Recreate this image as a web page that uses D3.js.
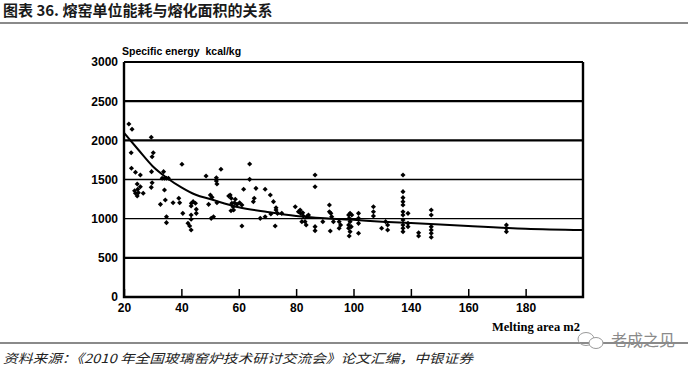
<!DOCTYPE html>
<html>
<head>
<meta charset="utf-8">
<script src="https://cdn.jsdelivr.net/npm/d3@7"></script>
<style>
  body { margin: 0; background: #fff; }
  svg { display: block; }
  text { white-space: pre; }
</style>
</head>
<body>
<svg id="chart" width="700" height="370"></svg>
<script>
// Melting area (as labelled on the original axis) vs specific energy
const points = [
  [21.7,2209],[22.8,2141],[22.5,1842],[22.6,1643],[24,1592],[25.7,1557],
  [23.7,1357],[24.8,1375],[25.7,1408],[24,1324],[25,1332],[26.7,1324],[24.6,1290],[24.6,1443],
  [29.5,2039],[30.2,1842],[29.8,1791],[29.6,1600],[29.8,1459],[29.5,1400],
  [32.7,1183],[34.1,1366],[34.4,1238],[34.8,1025],[34.8,949],
  [33.8,1600],[33.3,1515],[34.1,1515],[34.8,1515],[35.5,1515],
  [37.1,1204],[39.1,1260],[39.4,1204],[40.5,1068],[40.2,1694],
  [42.3,941],[42.9,906],[43.4,855],[43.4,992],[43.4,1047],[43.5,1196],[44.1,1217],[44.9,1196],[45.2,1119],[45.2,1068],[43.4,1162],
  [48.6,1545],[49.5,1183],[50.1,1302],[50.7,1273],[51.2,1025],[50.4,1004],
  [52.2,1523],[52.2,1481],[52.4,1443],[52.4,1204],[53.8,1630],
  [56.5,1290],[57,1302],[57.4,1260],[57.6,1196],[58,1153],[57.3,1102],[58.2,1111],[58.5,1204],[58.8,1247],[59.4,1183],
  [60.3,1204],[61.1,1174],[61.1,906],
  [61.7,1375],[63.8,1698],[63.8,1502],[65.1,1217],[65.4,1260],[66,1387],
  [67.5,1004],[69.2,1025],[69.2,1375],[71,1302],[71.2,1060],[72.1,1217],[73,1140],[72.7,906],[73,1111],[73.5,1068],[75,1068],
  [79.7,1153],[80.8,1089],[81.4,1111],[81.6,1068],[82.3,1076],[82.5,1034],[83.1,962],[83.7,1025],[84.3,1047],[82,962],[83.5,919],
  [86.6,1557],[86.6,1408],[86.6,898],[86.6,847],
  [89.3,962],[91.6,1174],[91.6,1089],[92.1,1068],[92.4,1025],[93,962],[91.9,843],
  [95,962],[95,877],[95.5,919],
  [98.3,1047],[98.8,1068],[99.4,1047],[98.5,1004],[98.8,962],[98.3,919],[99.2,898],[98.3,877],[98.8,834],[98.5,779],
  [103.5,1068],[103.5,1004],[103.5,940],[103.5,813],
  [113.9,1153],[113.9,1089],[113.9,1034],
  [119.6,877],[122.4,962],[123.8,919],[123.8,855],
  [134.5,1557],[134.5,1345],[134.5,1268],[134.5,1217],[134.5,1174],[134.5,1089],[134.5,1047],[134.5,983],[134.5,919],[134.5,877],[134.5,834],
  [138,1068],[138,940],[138,898],
  [142.7,821],[142.7,779],
  [147.1,1110],[147.1,1047],[147.1,898],[147.1,855],[147.1,813],[147.1,762],
  [173.3,919],[173.3,877],[173.3,834]
];

// Fitted trend line
const curveX = [20, 25, 30, 35, 40, 45, 50, 60, 70, 80, 90, 100, 120, 140, 160, 180, 200];
const curveY = [2095, 1880, 1670, 1520, 1400, 1305, 1250, 1145, 1085, 1035, 1005, 985, 962, 945, 905, 872, 855];

// The original axis skips 120, ticks are evenly spaced
const xBreaks = [20, 40, 60, 80, 100, 140, 160, 180, 200];
const xTickLabels = [20, 40, 60, 80, 100, 140, 160, 180];
const yTicks = [0, 500, 1000, 1500, 2000, 2500, 3000];
const thinGrid = [1000, 1500];

const title = '图表 36. 熔窑单位能耗与熔化面积的关系';
const source = '资料来源：《2010 年全国玻璃窑炉技术研讨交流会》论文汇编，中银证券';

const svg = d3.select('#chart');
const L = 124, R = 583, T = 62, B = 297;

const x = d3.scaleLinear()
  .domain(xBreaks)
  .range(xBreaks.map((d, i) => L + i * (R - L) / (xBreaks.length - 1)));
const y = d3.scaleLinear().domain([0, 3000]).range([B, T]);

// Header / footer
svg.append('text')
  .attr('x', 3).attr('y', 16)
  .attr('font-family', '"Noto Sans CJK SC", sans-serif')
  .attr('font-weight', 700).attr('font-size', 15)
  .attr('fill', '#1a1a1a')
  .text(title);
svg.append('line')
  .attr('x1', 0).attr('x2', 688).attr('y1', 23).attr('y2', 23)
  .attr('stroke', '#8a8a8a').attr('stroke-width', 2);

svg.append('line')
  .attr('x1', 0).attr('x2', 688).attr('y1', 343).attr('y2', 343)
  .attr('stroke', '#8a8a8a').attr('stroke-width', 2);
svg.append('text')
  .attr('x', 3).attr('y', 363)
  .attr('font-family', '"Noto Sans CJK SC", sans-serif')
  .attr('font-style', 'italic').attr('font-size', 12.5)
  .attr('textLength', 470).attr('lengthAdjust', 'spacingAndGlyphs')
  .attr('fill', '#222')
  .text(source);

// Watermark
const wm = svg.append('g').attr('fill', 'none').attr('stroke', '#9a9a9a').attr('stroke-width', 1);
wm.append('ellipse').attr('cx', 586).attr('cy', 339).attr('rx', 8).attr('ry', 6.5);
wm.append('ellipse').attr('cx', 596).attr('cy', 343).attr('rx', 7).attr('ry', 5.5).attr('fill', '#fff');
svg.append('text')
  .attr('x', 611).attr('y', 346)
  .attr('font-family', '"Noto Sans CJK SC", sans-serif')
  .attr('font-size', 16).attr('fill', '#8a8a8a')
  .text('老成之见');

// Gridlines
svg.append('g')
  .selectAll('line')
  .data(yTicks.filter(d => d > 0))
  .join('line')
  .attr('x1', L).attr('x2', R)
  .attr('y1', d => y(d)).attr('y2', d => y(d))
  .attr('stroke', '#000')
  .attr('stroke-width', d => thinGrid.includes(d) ? 1.3 : 2.2);

// Y axis labels
svg.append('g')
  .attr('transform', `translate(${L},0)`)
  .call(d3.axisLeft(y).tickValues(yTicks).tickFormat(d3.format('d')).tickSize(0).tickPadding(6))
  .call(g => g.select('.domain').remove())
  .call(g => g.selectAll('text')
    .attr('font-family', '"Liberation Sans", Arial, sans-serif')
    .attr('font-weight', 700).attr('font-size', 12).attr('fill', '#000'));

// X axis: ticks point up into the plot
svg.append('g')
  .attr('transform', `translate(0,${B})`)
  .call(d3.axisBottom(x).tickValues(xTickLabels).tickSize(-8).tickPadding(6))
  .call(g => g.select('.domain').remove())
  .call(g => g.selectAll('.tick line').attr('stroke', '#000').attr('stroke-width', 1.5))
  .call(g => g.selectAll('text')
    .attr('font-family', '"Liberation Sans", Arial, sans-serif')
    .attr('font-weight', 700).attr('font-size', 12).attr('fill', '#000'));

// Frame: left, bottom, right
svg.append('path')
  .attr('d', `M${L},${T}V${B}H${R}V${T}`)
  .attr('fill', 'none').attr('stroke', '#000').attr('stroke-width', 2.4);

// Axis titles
svg.append('text')
  .attr('x', 122).attr('y', 55)
  .attr('font-family', '"Liberation Sans", Arial, sans-serif')
  .attr('font-weight', 700).attr('font-size', 10.5)
  .text('Specific energy  kcal/kg');
svg.append('text')
  .attr('x', 492).attr('y', 331)
  .attr('font-family', '"Liberation Serif", "Times New Roman", serif')
  .attr('font-weight', 700).attr('font-size', 12.5)
  .text('Melting area m2');

// Scatter
svg.append('g')
  .selectAll('path')
  .data(points)
  .join('path')
  .attr('transform', d => `translate(${x(d[0])},${y(d[1])}) rotate(45)`)
  .attr('d', d3.symbol(d3.symbolSquare, 13))
  .attr('fill', '#000');

// Trend curve
svg.append('path')
  .datum(d3.zip(curveX, curveY))
  .attr('fill', 'none')
  .attr('stroke', '#000')
  .attr('stroke-width', 2)
  .attr('d', d3.line().x(d => x(d[0])).y(d => y(d[1])).curve(d3.curveMonotoneX));
</script>
</body>
</html>
